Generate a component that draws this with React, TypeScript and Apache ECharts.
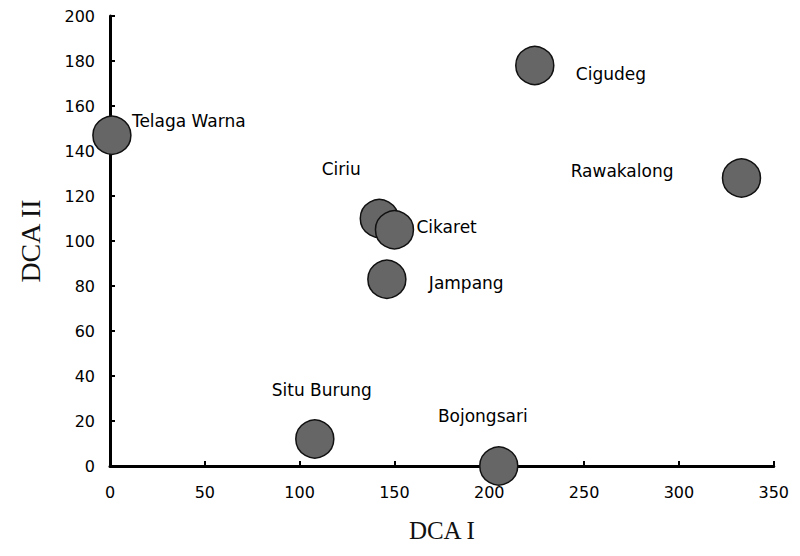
import React, { useEffect, useRef } from "react";
import * as echarts from "echarts";

const siteNames = ["Telaga Warna", "Ciriu", "Cikaret", "Jampang", "Cigudeg", "Rawakalong", "Situ Burung", "Bojongsari"];
const dcaI = [1, 142, 150, 146, 224, 333, 108, 205];
const dcaII = [147, 110, 105, 83, 178, 128, 12, 0];
const labelAlign = ["left", "center", "left", "left", "left", "right", "center", "center"];
const labelOffset: number[][] = [[20, -14], [-38, -50], [22, -3], [42, 4], [41, 8], [-68, -7], [7, -49], [-16, -50]];

export default function App() {
  const ref = useRef<HTMLDivElement>(null);
  useEffect(() => {
    if (!ref.current) return;
    const chart = echarts.init(ref.current, null, { renderer: "svg" });
    const data = siteNames.map((n, i) => ({
      name: n,
      value: [dcaI[i], dcaII[i]],
      label: { align: labelAlign[i], offset: labelOffset[i] },
    }));
    chart.setOption({
      animation: false,
      backgroundColor: "#fff",
      grid: { left: 94, right: 11, top: 8, bottom: 74 },
      xAxis: {
        type: "value",
        min: 0,
        max: 350,
        interval: 50,
        name: "DCA I",
        nameLocation: "middle",
        nameGap: 52,
        nameTextStyle: { fontFamily: "Liberation Serif", fontSize: 25, color: "#111" },
        axisLine: { show: true, lineStyle: { color: "#000", width: 3 } },
        axisTick: { show: true, inside: true, length: 5, lineStyle: { color: "#000", width: 2 } },
        axisLabel: { margin: 18, fontFamily: "DejaVu Sans", fontSize: 16, color: "#000" },
        splitLine: { show: false },
      },
      yAxis: {
        type: "value",
        min: 0,
        max: 200,
        interval: 20,
        name: "DCA II",
        nameLocation: "middle",
        nameGap: 66,
        nameTextStyle: { fontFamily: "Liberation Serif", fontSize: 28, color: "#111" },
        axisLine: { show: true, lineStyle: { color: "#000", width: 3 } },
        axisTick: { show: true, inside: true, length: 5, lineStyle: { color: "#000", width: 2 } },
        axisLabel: { margin: 15, fontFamily: "DejaVu Sans", fontSize: 16, color: "#000" },
        splitLine: { show: false },
      },
      series: [
        {
          type: "scatter",
          symbol: "circle",
          symbolSize: 38,
          data,
          itemStyle: { color: "#666666", borderColor: "#111", borderWidth: 1.5, opacity: 1 },
          label: {
            show: true,
            position: "inside",
            formatter: "{b}",
            fontFamily: "DejaVu Sans",
            fontSize: 17,
            color: "#000",
          },
        },
      ],
    });
    return () => chart.dispose();
  }, []);
  return <div ref={ref} style={{ width: 784, height: 540 }} />;
}
